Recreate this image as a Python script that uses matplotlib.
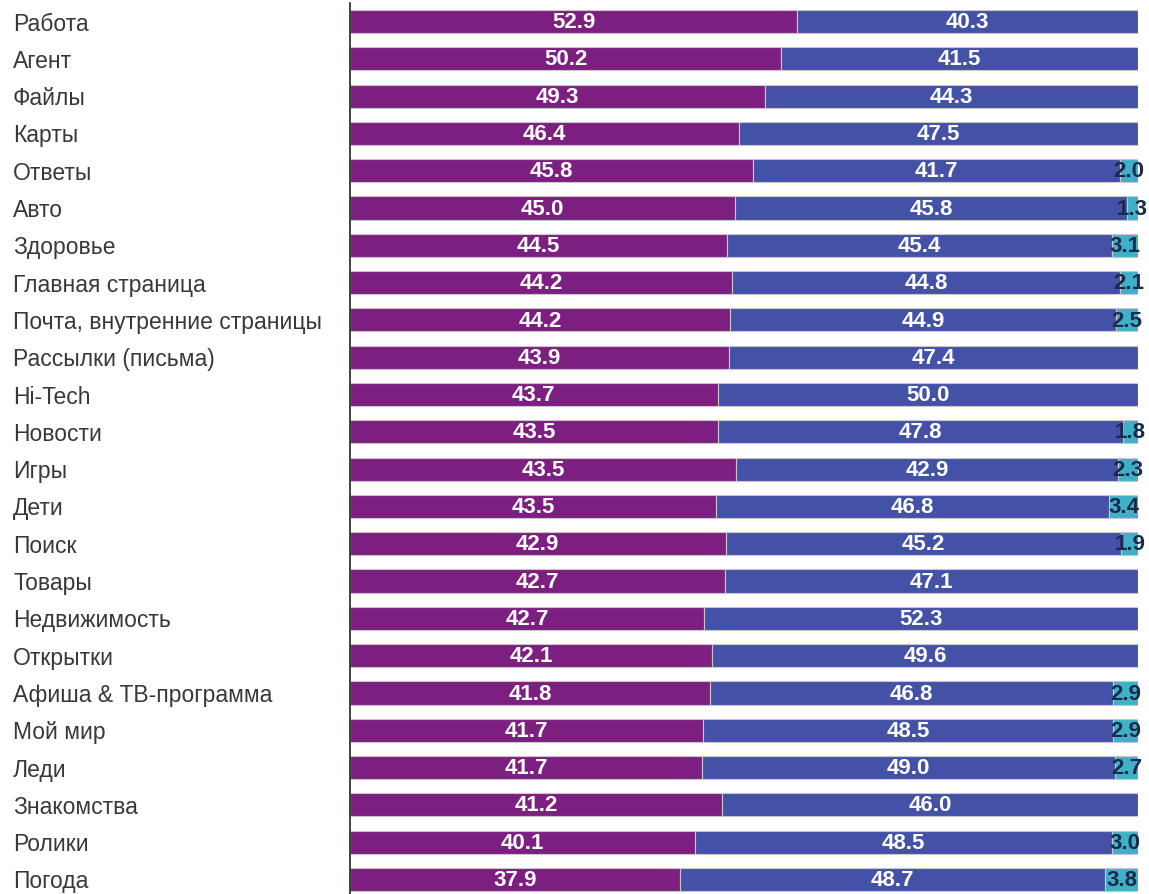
import matplotlib.pyplot as plt
import numpy as np

# categories, top to bottom
cats = ['Работа', 'Агент', 'Файлы', 'Карты', 'Ответы', 'Авто', 'Здоровье',
        'Главная страница', 'Почта, внутренние страницы', 'Рассылки (письма)',
        'Hi-Tech', 'Новости', 'Игры', 'Дети', 'Поиск', 'Товары', 'Недвижимость',
        'Открытки', 'Афиша & ТВ-программа', 'Мой мир', 'Леди', 'Знакомства',
        'Ролики', 'Погода']
purple = [52.9, 50.2, 49.3, 46.4, 45.8, 45.0, 44.5, 44.2, 44.2, 43.9, 43.7, 43.5,
          43.5, 43.5, 42.9, 42.7, 42.7, 42.1, 41.8, 41.7, 41.7, 41.2, 40.1, 37.9]
blue = [40.3, 41.5, 44.3, 47.5, 41.7, 45.8, 45.4, 44.8, 44.9, 47.4, 50.0, 47.8,
        42.9, 46.8, 45.2, 47.1, 52.3, 49.6, 46.8, 48.5, 49.0, 46.0, 48.5, 48.7]
teal = [0, 0, 0, 0, 2.0, 1.3, 3.1, 2.1, 2.5, 0, 0, 1.8,
        2.3, 3.4, 1.9, 0, 0, 0, 2.9, 2.9, 2.7, 0, 3.0, 3.8]

colors = ['#7d1f80', '#4352a6', '#40b0c8']
label_colors = ['white', 'white', '#1b2a4a']

plt.rcParams['font.family'] = ['Liberation Sans', 'DejaVu Sans']

fig = plt.figure(figsize=(11.49, 8.94), dpi=100)
ax = fig.add_axes([350/1149, 0, 788/1149, 891/894])

y = np.arange(len(cats))
series = [np.array(purple), np.array(blue), np.array(teal)]
total = series[0] + series[1] + series[2]

left = np.zeros(len(cats))
for vals, col, lcol in zip(series, colors, label_colors):
    frac = vals / total
    ax.barh(y, frac, left=left, height=0.62, color=col,
            edgecolor='#c8c8c8', linewidth=0.8)
    for i in range(len(cats)):
        if vals[i] > 0:
            ax.text(left[i] + frac[i] / 2, y[i] + 0.03, f'{vals[i]:.1f}',
                    ha='center', va='center', color=lcol,
                    fontsize=16, fontweight='bold', clip_on=False)
    left = left + frac

ax.set_xlim(0, 1)
ax.set_ylim(len(cats) - 1 + 0.39, -0.496)
ax.set_yticks(y)
ax.set_yticklabels(cats, fontsize=16.5, color='#383838', ha='left')
ax.tick_params(axis='y', length=0, pad=337 * 72 / 100)
ax.set_xticks([])
for s in ['top', 'right', 'bottom']:
    ax.spines[s].set_visible(False)
ax.spines['left'].set_color('#222222')
ax.spines['left'].set_linewidth(1.2)

fig.savefig('out.png', dpi=100)
